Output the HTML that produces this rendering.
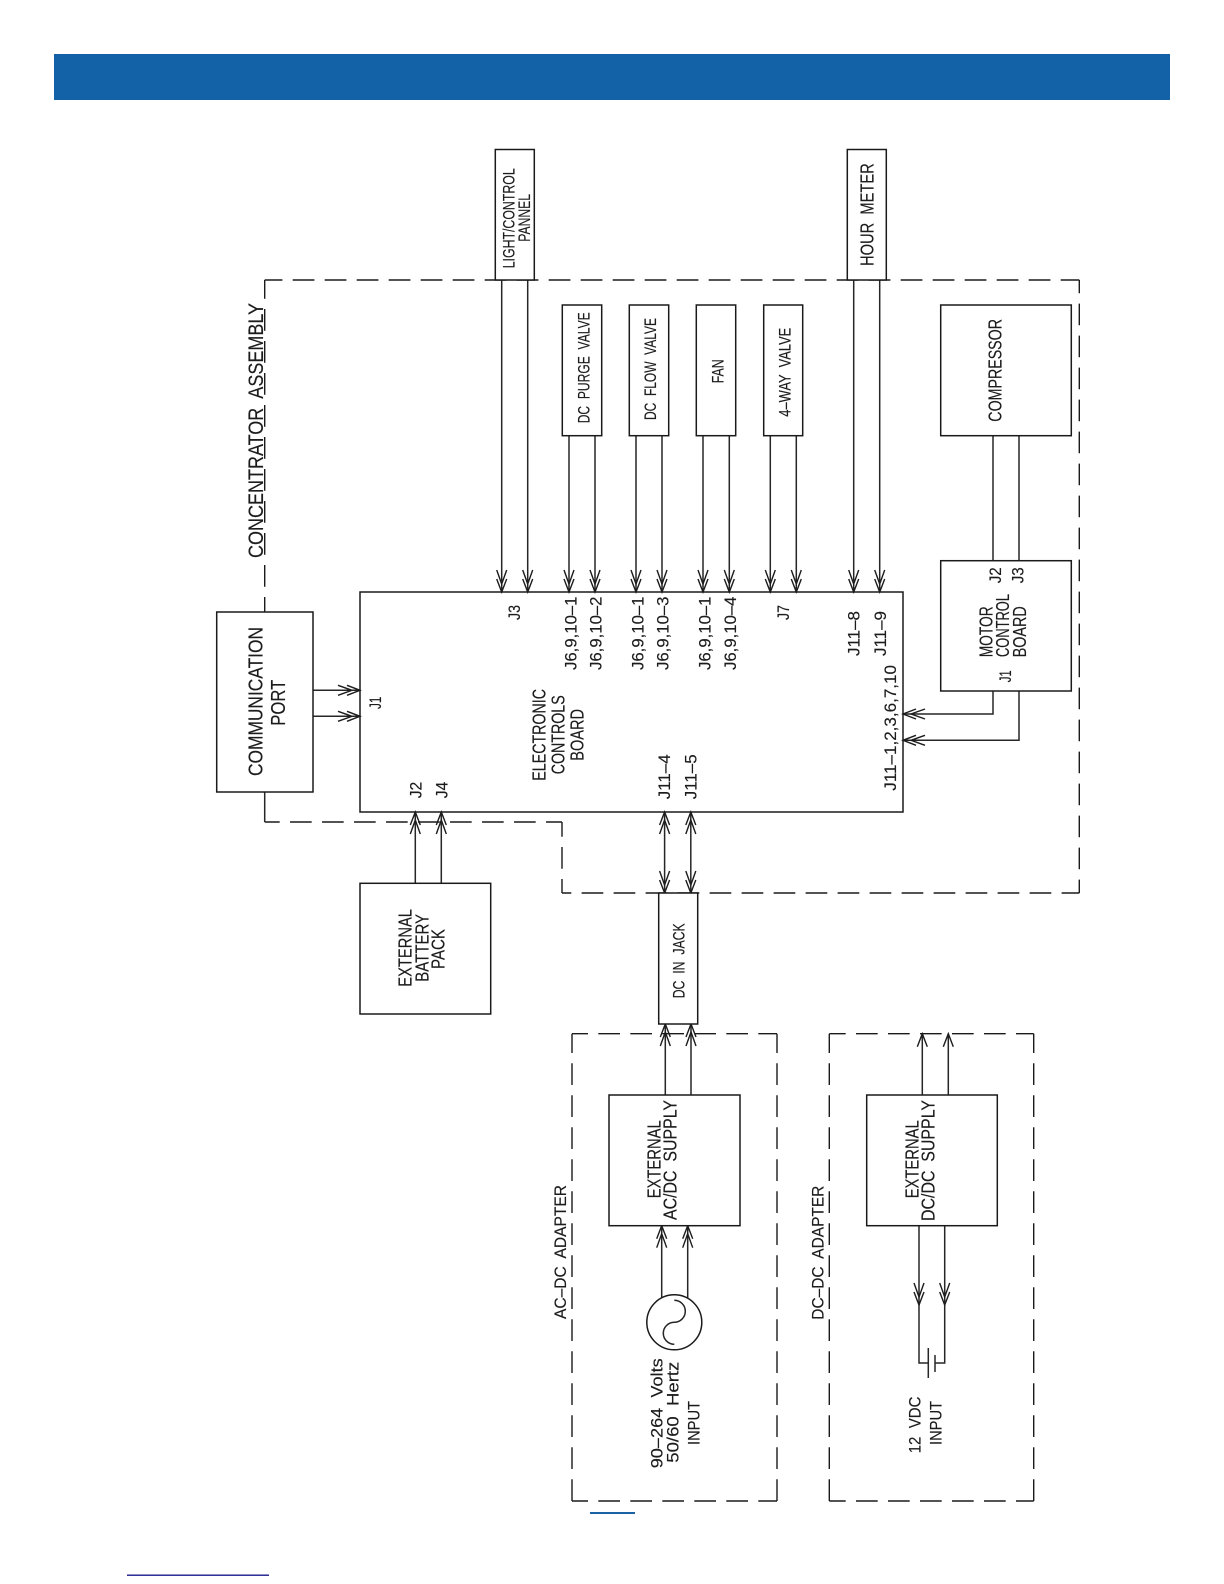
<!DOCTYPE html>
<html>
<head>
<meta charset="utf-8">
<style>
html,body{margin:0;padding:0;background:#fff;}
svg{display:block;}
text{font-family:"Liberation Sans",sans-serif;fill:#1c1c1c;stroke:#1c1c1c;stroke-width:0.15;white-space:pre;}
.l{fill:none;stroke:#262626;stroke-width:1.5;}
.b{fill:#fff;stroke:#1a1a1a;stroke-width:1.5;}
.d{fill:none;stroke:#1a1a1a;stroke-width:1.4;stroke-dasharray:21.7 10.3;}
.a{fill:none;stroke:#1c1c1c;stroke-width:1.4;}
</style>
</head>
<body>
<svg width="1224" height="1584" viewBox="0 0 1224 1584" xmlns="http://www.w3.org/2000/svg" xml:space="preserve">
<defs>
<path id="dbl" class="a" d="M-5,-13 L0,0 L5,-13 M-5,-22 L0,-8 L5,-22"/>
<path id="sgl" class="a" d="M-5,-13 L0,0 L5,-13"/>
</defs>
<rect x="54" y="54" width="1116" height="46" fill="#1362a7"/>
<rect x="590" y="1512" width="45" height="2" fill="#1c63a5"/>
<rect x="127" y="1574.5" width="142" height="1.4" fill="#1a1a8c"/>

<!-- concentrator dashed outline -->
<path class="d" d="M264.7,280 H1079.3" stroke-dashoffset="4"/>
<path class="d" d="M264.7,280 V612" stroke-dashoffset="3"/>
<path class="d" d="M1079.3,280 V893" stroke-dashoffset="8.4"/>
<path class="d" d="M1079.3,893 H562" stroke-dashoffset="4"/>
<path class="l" d="M264.7,792 V822"/>
<path class="d" d="M264.7,822 H562" stroke-dashoffset="6.7"/>
<path class="d" d="M562,822 V893" stroke-dashoffset="7"/>

<!-- AC adapter dashed -->
<path class="d" d="M572,1033.7 H777" stroke-dashoffset="5.7"/>
<path class="d" d="M572,1501 H777" stroke-dashoffset="5.7"/>
<path class="d" d="M572,1033.7 V1501" stroke-dashoffset="2.4"/>
<path class="d" d="M777,1033.7 V1501" stroke-dashoffset="2.4"/>
<!-- DC adapter dashed -->
<path class="d" d="M829.3,1033.7 H1033.7" stroke-dashoffset="5.3"/>
<path class="d" d="M829.3,1501 H1033.7" stroke-dashoffset="5.3"/>
<path class="d" d="M829.3,1033.7 V1501" stroke-dashoffset="2.4"/>
<path class="d" d="M1033.7,1033.7 V1501" stroke-dashoffset="2.4"/>

<!-- connectors -->
<path class="l" d="M501.7,280 V592 M527.7,280 V592 M569,435.7 V592 M595,435.7 V592 M636,435.7 V592 M662,435.7 V592 M703,435.7 V592 M729.3,435.7 V592 M770.3,435.7 V592 M796.3,435.7 V592 M853.7,280 V592 M879.7,280 V592"/>
<path class="l" d="M993,435.7 V560.7 M1019,435.7 V560.7 M993,691 V714 H903 M1019,691 V740.3 H903"/>
<path class="l" d="M313,690.3 H360 M313,716.3 H360"/>
<path class="l" d="M415.3,883.3 V812 M441.3,883.3 V812"/>
<path class="l" d="M664.6,812 V893 M690.8,812 V893"/>
<path class="l" d="M665.3,1095 V1024 M691,1095 V1024"/>
<path class="l" d="M661.7,1298 V1225.7 M687.7,1298 V1225.7"/>
<path class="l" d="M922.3,1095 V1033.7 M948.3,1095 V1033.7"/>
<path class="l" d="M919,1225.7 V1363 H928.3 M944.7,1225.7 V1363 H935"/>
<path class="l" d="M928.3,1348 V1378 M935,1355 V1372"/>

<!-- arrowheads -->
<use href="#dbl" transform="translate(501.7,592)"/>
<use href="#dbl" transform="translate(527.7,592)"/>
<use href="#dbl" transform="translate(569,592)"/>
<use href="#dbl" transform="translate(595,592)"/>
<use href="#dbl" transform="translate(636,592)"/>
<use href="#dbl" transform="translate(662,592)"/>
<use href="#dbl" transform="translate(703,592)"/>
<use href="#dbl" transform="translate(729.3,592)"/>
<use href="#dbl" transform="translate(770.3,592)"/>
<use href="#dbl" transform="translate(796.3,592)"/>
<use href="#dbl" transform="translate(853.7,592)"/>
<use href="#dbl" transform="translate(879.7,592)"/>
<use href="#dbl" transform="translate(903,714) rotate(90)"/>
<use href="#dbl" transform="translate(903,740.3) rotate(90)"/>
<use href="#dbl" transform="translate(360,690.3) rotate(-90)"/>
<use href="#dbl" transform="translate(360,716.3) rotate(-90)"/>
<use href="#dbl" transform="translate(415.3,812) rotate(180)"/>
<use href="#dbl" transform="translate(441.3,812) rotate(180)"/>
<use href="#dbl" transform="translate(664.6,812) rotate(180)"/>
<use href="#dbl" transform="translate(690.8,812) rotate(180)"/>
<use href="#dbl" transform="translate(664.6,893)"/>
<use href="#dbl" transform="translate(690.8,893)"/>
<use href="#dbl" transform="translate(665.3,1024) rotate(180)"/>
<use href="#dbl" transform="translate(691,1024) rotate(180)"/>
<use href="#dbl" transform="translate(661.7,1225.7) rotate(180)"/>
<use href="#dbl" transform="translate(687.7,1225.7) rotate(180)"/>
<use href="#sgl" transform="translate(922.3,1033.7) rotate(180)"/>
<use href="#sgl" transform="translate(948.3,1033.7) rotate(180)"/>
<use href="#dbl" transform="translate(919,1305)"/>
<use href="#dbl" transform="translate(944.7,1305)"/>

<!-- boxes -->
<rect class="b" x="495.3" y="149.5" width="39" height="130.5"/>
<rect class="b" x="847.3" y="149.5" width="39" height="130.5"/>
<rect class="b" x="562.3" y="305" width="39.4" height="130.7"/>
<rect class="b" x="629.3" y="305" width="39.4" height="130.7"/>
<rect class="b" x="696.3" y="305" width="39.4" height="130.7"/>
<rect class="b" x="763.7" y="305" width="39" height="130.7"/>
<rect class="b" x="940.7" y="305" width="130.6" height="130.7"/>
<rect class="b" x="940.7" y="560.7" width="130.6" height="130.3"/>
<rect class="b" x="216.7" y="612" width="96.3" height="180"/>
<rect class="b" x="360" y="592" width="543" height="220" style="fill:none"/>
<rect class="b" x="360" y="883.3" width="130.7" height="130.7"/>
<rect class="b" x="658.7" y="893" width="39" height="131"/>
<rect class="b" x="609" y="1095" width="131" height="130.7"/>
<rect class="b" x="866.7" y="1095" width="130.6" height="130.7"/>
<circle class="b" cx="674.3" cy="1322.3" r="27.5"/>
<path class="l" d="M674.3,1300.3 A11,11 0 0 1 674.3,1322.3 A11,11 0 0 0 674.3,1344.3"/>

<!-- labels -->
<text font-size="21" textLength="255" lengthAdjust="spacingAndGlyphs" transform="translate(263,558) rotate(-90)">CONCENTRATOR  ASSEMBLY</text>
<text font-size="20" textLength="149" lengthAdjust="spacingAndGlyphs" transform="translate(262.7,776) rotate(-90)">COMMUNICATION</text>
<text font-size="20" textLength="46" lengthAdjust="spacingAndGlyphs" transform="translate(285,725.7) rotate(-90)">PORT</text>
<text font-size="17" textLength="12.3" lengthAdjust="spacingAndGlyphs" transform="translate(381,709) rotate(-90)">J1</text>
<text font-size="17" textLength="16.6" lengthAdjust="spacingAndGlyphs" transform="translate(421.7,798.3) rotate(-90)">J2</text>
<text font-size="17" textLength="16.6" lengthAdjust="spacingAndGlyphs" transform="translate(447.7,798.3) rotate(-90)">J4</text>
<text font-size="17" textLength="15" lengthAdjust="spacingAndGlyphs" transform="translate(520,620) rotate(-90)">J3</text>
<text font-size="17" textLength="15" lengthAdjust="spacingAndGlyphs" transform="translate(789,620) rotate(-90)">J7</text>
<text font-size="17" textLength="73.5" lengthAdjust="spacingAndGlyphs" transform="translate(576.7,670) rotate(-90)">J6,9,10–1</text>
<text font-size="17" textLength="73.5" lengthAdjust="spacingAndGlyphs" transform="translate(601.7,670) rotate(-90)">J6,9,10–2</text>
<text font-size="17" textLength="73.5" lengthAdjust="spacingAndGlyphs" transform="translate(643.3,670) rotate(-90)">J6,9,10–1</text>
<text font-size="17" textLength="73.5" lengthAdjust="spacingAndGlyphs" transform="translate(668.3,670) rotate(-90)">J6,9,10–3</text>
<text font-size="17" textLength="73.5" lengthAdjust="spacingAndGlyphs" transform="translate(710.7,670) rotate(-90)">J6,9,10–1</text>
<text font-size="17" textLength="73.5" lengthAdjust="spacingAndGlyphs" transform="translate(736,670) rotate(-90)">J6,9,10–4</text>
<text font-size="17" textLength="45" lengthAdjust="spacingAndGlyphs" transform="translate(859.3,656) rotate(-90)">J11–8</text>
<text font-size="17" textLength="45" lengthAdjust="spacingAndGlyphs" transform="translate(886,656) rotate(-90)">J11–9</text>
<text font-size="17" textLength="125.7" lengthAdjust="spacingAndGlyphs" transform="translate(896,790.7) rotate(-90)">J11–1,2,3,6,7,10</text>
<text font-size="17" textLength="45" lengthAdjust="spacingAndGlyphs" transform="translate(670,799.3) rotate(-90)">J11–4</text>
<text font-size="17" textLength="45" lengthAdjust="spacingAndGlyphs" transform="translate(696.7,799.3) rotate(-90)">J11–5</text>
<text font-size="18" textLength="91.7" lengthAdjust="spacingAndGlyphs" transform="translate(545.7,780.7) rotate(-90)">ELECTRONIC</text>
<text font-size="18" textLength="79" lengthAdjust="spacingAndGlyphs" transform="translate(564.3,774.3) rotate(-90)">CONTROLS</text>
<text font-size="18" textLength="51.7" lengthAdjust="spacingAndGlyphs" transform="translate(583.3,760.7) rotate(-90)">BOARD</text>
<text font-size="18" textLength="51" lengthAdjust="spacingAndGlyphs" transform="translate(992.7,657.3) rotate(-90)">MOTOR</text>
<text font-size="18" textLength="63" lengthAdjust="spacingAndGlyphs" transform="translate(1009,657) rotate(-90)">CONTROL</text>
<text font-size="18" textLength="51" lengthAdjust="spacingAndGlyphs" transform="translate(1026,657.3) rotate(-90)">BOARD</text>
<text font-size="17" textLength="12" lengthAdjust="spacingAndGlyphs" transform="translate(1011,682.3) rotate(-90)">J1</text>
<text font-size="17" textLength="16" lengthAdjust="spacingAndGlyphs" transform="translate(1001,583.3) rotate(-90)">J2</text>
<text font-size="17" textLength="16" lengthAdjust="spacingAndGlyphs" transform="translate(1023.3,583.3) rotate(-90)">J3</text>
<text font-size="18" textLength="102.7" lengthAdjust="spacingAndGlyphs" transform="translate(1001.7,421.7) rotate(-90)">COMPRESSOR</text>
<text font-size="17" textLength="100" lengthAdjust="spacingAndGlyphs" transform="translate(514.3,268.3) rotate(-90)">LIGHT/CONTROL</text>
<text font-size="17" textLength="47.7" lengthAdjust="spacingAndGlyphs" transform="translate(530,241.7) rotate(-90)">PANNEL</text>
<text font-size="18" textLength="102.7" lengthAdjust="spacingAndGlyphs" transform="translate(873.3,266) rotate(-90)">HOUR  METER</text>
<text font-size="17" textLength="111" lengthAdjust="spacingAndGlyphs" transform="translate(589.3,423.3) rotate(-90)">DC  PURGE  VALVE</text>
<text font-size="17" textLength="102" lengthAdjust="spacingAndGlyphs" transform="translate(656,420) rotate(-90)">DC  FLOW  VALVE</text>
<text font-size="17" textLength="24" lengthAdjust="spacingAndGlyphs" transform="translate(723.3,383.3) rotate(-90)">FAN</text>
<text font-size="17" textLength="89" lengthAdjust="spacingAndGlyphs" transform="translate(790.7,416.7) rotate(-90)">4–WAY  VALVE</text>
<text font-size="17" textLength="75" lengthAdjust="spacingAndGlyphs" transform="translate(684.3,998.3) rotate(-90)">DC  IN  JACK</text>
<text font-size="18" textLength="77.7" lengthAdjust="spacingAndGlyphs" transform="translate(411.7,986.7) rotate(-90)">EXTERNAL</text>
<text font-size="18" textLength="67.7" lengthAdjust="spacingAndGlyphs" transform="translate(428.3,981.7) rotate(-90)">BATTERY</text>
<text font-size="18" textLength="40" lengthAdjust="spacingAndGlyphs" transform="translate(444.3,969) rotate(-90)">PACK</text>
<text font-size="17" textLength="134" lengthAdjust="spacingAndGlyphs" transform="translate(566,1319) rotate(-90)">AC–DC  ADAPTER</text>
<text font-size="17" textLength="134" lengthAdjust="spacingAndGlyphs" transform="translate(823.3,1319.7) rotate(-90)">DC–DC  ADAPTER</text>
<text font-size="18" textLength="78" lengthAdjust="spacingAndGlyphs" transform="translate(660.7,1198.3) rotate(-90)">EXTERNAL</text>
<text font-size="18" textLength="120" lengthAdjust="spacingAndGlyphs" transform="translate(676.7,1220) rotate(-90)">AC/DC  SUPPLY</text>
<text font-size="18" textLength="78" lengthAdjust="spacingAndGlyphs" transform="translate(918.3,1198.3) rotate(-90)">EXTERNAL</text>
<text font-size="18" textLength="121" lengthAdjust="spacingAndGlyphs" transform="translate(934.3,1221) rotate(-90)">DC/DC  SUPPLY</text>
<text font-size="17" textLength="110" lengthAdjust="spacingAndGlyphs" transform="translate(662.3,1468.3) rotate(-90)">90–264  Volts</text>
<text font-size="17" textLength="101" lengthAdjust="spacingAndGlyphs" transform="translate(678.3,1462.7) rotate(-90)">50/60  Hertz</text>
<text font-size="17" textLength="44" lengthAdjust="spacingAndGlyphs" transform="translate(699.3,1445) rotate(-90)">INPUT</text>
<text font-size="17" textLength="56.7" lengthAdjust="spacingAndGlyphs" transform="translate(920.7,1453.3) rotate(-90)">12  VDC</text>
<text font-size="17" textLength="44" lengthAdjust="spacingAndGlyphs" transform="translate(941.7,1445) rotate(-90)">INPUT</text>
</svg>
</body>
</html>
